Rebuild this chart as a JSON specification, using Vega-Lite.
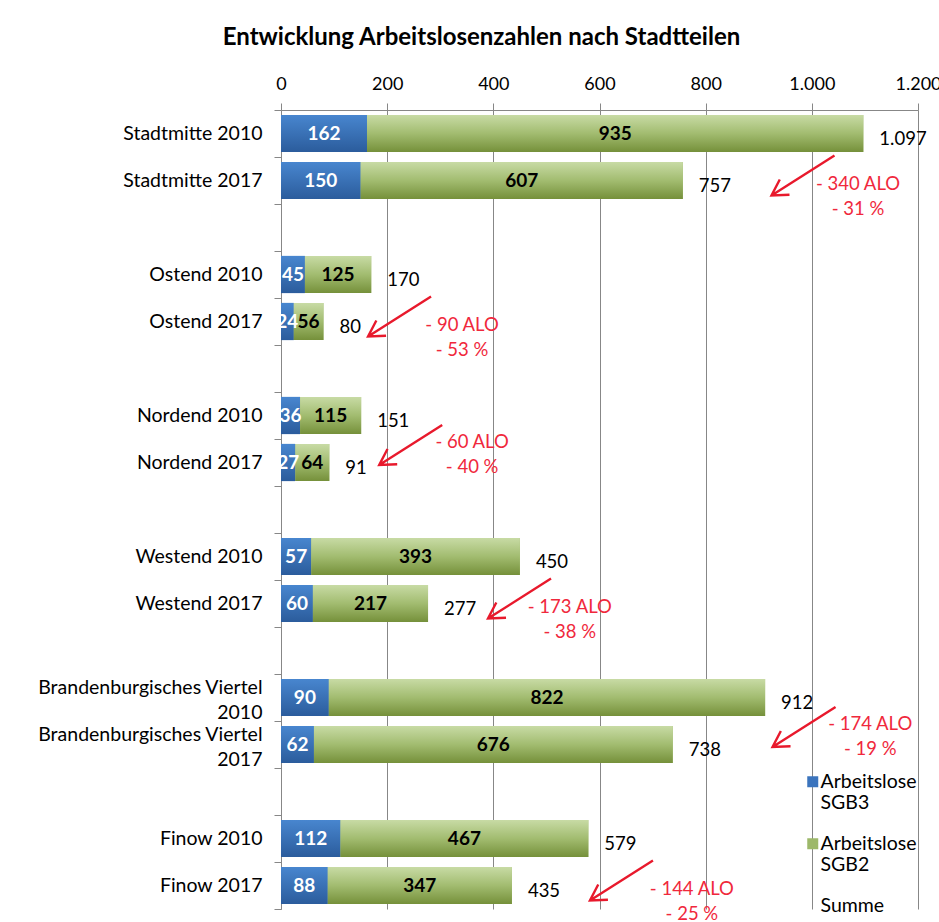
{
  "$schema": "https://vega.github.io/schema/vega-lite/v6.json",
  "width": 637,
  "height": 799,
  "autosize": {"type": "none"},
  "padding": {"left": 281, "top": 110, "right": 21, "bottom": 13},
  "background": "white",
  "config": {
    "view": {"stroke": null},
    "locale": {"number": {"decimal": ",", "thousands": ".", "grouping": [3], "currency": ["", " €"]}}
  },
  "title": {
    "text": "Entwicklung Arbeitslosenzahlen nach Stadtteilen",
    "anchor": "middle",
    "frame": "group",
    "dx": -118,
    "offset": 25,
    "font": "Lato",
    "fontSize": 24,
    "fontWeight": "bold",
    "color": "#000000"
  },
  "datasets": {
    "bars": [
      {"cat": "Stadtmitte 2010", "series": "Arbeitslose SGB3", "n": 162},
      {"cat": "Stadtmitte 2010", "series": "Arbeitslose SGB2", "n": 935},
      {"cat": "Stadtmitte 2017", "series": "Arbeitslose SGB3", "n": 150},
      {"cat": "Stadtmitte 2017", "series": "Arbeitslose SGB2", "n": 607},
      {"cat": "Ostend 2010", "series": "Arbeitslose SGB3", "n": 45},
      {"cat": "Ostend 2010", "series": "Arbeitslose SGB2", "n": 125},
      {"cat": "Ostend 2017", "series": "Arbeitslose SGB3", "n": 24},
      {"cat": "Ostend 2017", "series": "Arbeitslose SGB2", "n": 56},
      {"cat": "Nordend 2010", "series": "Arbeitslose SGB3", "n": 36},
      {"cat": "Nordend 2010", "series": "Arbeitslose SGB2", "n": 115},
      {"cat": "Nordend 2017", "series": "Arbeitslose SGB3", "n": 27},
      {"cat": "Nordend 2017", "series": "Arbeitslose SGB2", "n": 64},
      {"cat": "Westend 2010", "series": "Arbeitslose SGB3", "n": 57},
      {"cat": "Westend 2010", "series": "Arbeitslose SGB2", "n": 393},
      {"cat": "Westend 2017", "series": "Arbeitslose SGB3", "n": 60},
      {"cat": "Westend 2017", "series": "Arbeitslose SGB2", "n": 217},
      {"cat": "Brandenburgisches Viertel 2010", "series": "Arbeitslose SGB3", "n": 90},
      {"cat": "Brandenburgisches Viertel 2010", "series": "Arbeitslose SGB2", "n": 822},
      {"cat": "Brandenburgisches Viertel 2017", "series": "Arbeitslose SGB3", "n": 62},
      {"cat": "Brandenburgisches Viertel 2017", "series": "Arbeitslose SGB2", "n": 676},
      {"cat": "Finow 2010", "series": "Arbeitslose SGB3", "n": 112},
      {"cat": "Finow 2010", "series": "Arbeitslose SGB2", "n": 467},
      {"cat": "Finow 2017", "series": "Arbeitslose SGB3", "n": 88},
      {"cat": "Finow 2017", "series": "Arbeitslose SGB2", "n": 347}
    ],
    "sums": [
      {"cat": "Stadtmitte 2010", "total": 1097},
      {"cat": "Stadtmitte 2017", "total": 757},
      {"cat": "Ostend 2010", "total": 170},
      {"cat": "Ostend 2017", "total": 80},
      {"cat": "Nordend 2010", "total": 151},
      {"cat": "Nordend 2017", "total": 91},
      {"cat": "Westend 2010", "total": 450},
      {"cat": "Westend 2017", "total": 277},
      {"cat": "Brandenburgisches Viertel 2010", "total": 912},
      {"cat": "Brandenburgisches Viertel 2017", "total": 738},
      {"cat": "Finow 2010", "total": 579},
      {"cat": "Finow 2017", "total": 435}
    ],
    "notes": [
      {"cat": "Stadtmitte 2017", "note": "- 340 ALO\n- 31 %", "tip": 924, "at": 1087},
      {"cat": "Ostend 2017", "note": "- 90 ALO\n- 53 %", "tip": 164, "at": 341},
      {"cat": "Nordend 2017", "note": "- 60 ALO\n- 40 %", "tip": 185, "at": 360},
      {"cat": "Westend 2017", "note": "- 173 ALO\n- 38 %", "tip": 390, "at": 544},
      {"cat": "Brandenburgisches Viertel 2017", "note": "- 174 ALO\n- 19 %", "tip": 926, "at": 1110},
      {"cat": "Finow 2017", "note": "- 144 ALO\n- 25 %", "tip": 582, "at": 774}
    ]
  },
  "encoding": {
    "y": {
      "field": "cat",
      "type": "nominal",
      "scale": {
        "domain": ["Stadtmitte 2010", "Stadtmitte 2017", " ", "Ostend 2010", "Ostend 2017", "  ", "Nordend 2010", "Nordend 2017", "   ", "Westend 2010", "Westend 2017", "    ", "Brandenburgisches Viertel 2010", "Brandenburgisches Viertel 2017", "     ", "Finow 2010", "Finow 2017"],
        "paddingInner": 0,
        "paddingOuter": 0
      },
      "axis": {
        "title": null,
        "tickBand": "extent",
        "tickSize": 7,
        "tickColor": "#878787",
        "domainColor": "#878787",
        "labelFont": "Lato",
        "labelFontSize": 19.5,
        "labelColor": "#000000",
        "labelPadding": 12,
        "labelLineHeight": 25,
        "labelLimit": 400,
        "labelOverlap": false,
        "labelBaseline": {"condition": {"test": "length(datum.label) > 20", "value": "bottom"}, "value": "middle"},
        "labelExpr": "length(datum.label) > 20 ? [substring(datum.label, 0, length(datum.label) - 5), substring(datum.label, length(datum.label) - 4)] : datum.label"
      }
    }
  },
  "layer": [
    {
      "data": {"name": "bars"},
      "transform": [
        {"stack": "n", "groupby": ["cat"], "sort": [{"field": "series", "order": "descending"}], "as": ["v0", "v1"]}
      ],
      "mark": {"type": "bar", "height": {"band": 0.79}},
      "encoding": {
        "x": {
          "field": "v0",
          "type": "quantitative",
          "scale": {"domain": [0, 1200], "nice": false},
          "axis": {
            "orient": "top",
            "title": null,
            "values": [0, 200, 400, 600, 800, 1000, 1200],
            "format": ",d",
            "grid": true,
            "gridColor": "#878787",
            "gridWidth": 1,
            "domainColor": "#878787",
            "tickColor": "#878787",
            "tickSize": 7,
            "labelFont": "Lato",
            "labelFontSize": 18,
            "labelColor": "#000000",
            "labelPadding": 10,
            "labelFlush": false,
            "labelOverlap": false
          }
        },
        "x2": {"field": "v1"},
        "color": {
          "field": "series",
          "type": "nominal",
          "scale": {
            "domain": ["Arbeitslose SGB3", "Arbeitslose SGB2", "Summe"],
            "range": ["#3b74bd", "#9db86a", "rgba(0,0,0,0)"]
          },
          "legend": {
            "title": null,
            "orient": "none",
            "legendX": 522,
            "legendY": 662,
            "padding": 0,
            "symbolType": "square",
            "symbolSize": 121,
            "symbolStrokeWidth": 0,
            "symbolOpacity": 1,
            "labelFont": "Lato",
            "labelFontSize": 19.5,
            "labelColor": "#000000",
            "labelBaseline": "middle",
            "labelOffset": -2,
            "rowPadding": 20,
            "labelExpr": "datum.label == 'Summe' ? datum.label : split(datum.label, ' ')"
          }
        }
      }
    },
    {
      "data": {"name": "bars"},
      "transform": [
        {"stack": "n", "groupby": ["cat"], "sort": [{"field": "series", "order": "descending"}], "as": ["v0", "v1"]},
        {"filter": "datum.series == 'Arbeitslose SGB3'"}
      ],
      "mark": {
        "type": "bar",
        "height": {"band": 0.79},
        "color": {"gradient": "linear", "x1": 0, "y1": 0, "x2": 0, "y2": 1, "stops": [{"offset": 0, "color": "#4886cf"}, {"offset": 1, "color": "#2b5c9c"}]}
      },
      "encoding": {
        "x": {"field": "v0", "type": "quantitative"},
        "x2": {"field": "v1"}
      }
    },
    {
      "data": {"name": "bars"},
      "transform": [
        {"stack": "n", "groupby": ["cat"], "sort": [{"field": "series", "order": "descending"}], "as": ["v0", "v1"]},
        {"filter": "datum.series == 'Arbeitslose SGB2'"}
      ],
      "mark": {
        "type": "bar",
        "height": {"band": 0.79},
        "color": {"gradient": "linear", "x1": 0, "y1": 0, "x2": 0, "y2": 1, "stops": [{"offset": 0, "color": "#c8dba5"}, {"offset": 0.5, "color": "#a2bc70"}, {"offset": 1, "color": "#75903a"}]}
      },
      "encoding": {
        "x": {"field": "v0", "type": "quantitative"},
        "x2": {"field": "v1"}
      }
    },
    {
      "data": {"name": "bars"},
      "transform": [
        {"stack": "n", "groupby": ["cat"], "sort": [{"field": "series", "order": "descending"}], "as": ["v0", "v1"]},
        {"filter": "datum.series == 'Arbeitslose SGB3'"},
        {"fold": ["v0", "v1"], "as": ["k", "pos"]}
      ],
      "mark": {"type": "text", "font": "Lato", "fontSize": 19, "fontWeight": "bold", "color": "#ffffff", "align": "center", "baseline": "middle"},
      "encoding": {
        "x": {"field": "pos", "type": "quantitative", "aggregate": "mean"},
        "text": {"field": "n", "type": "quantitative", "format": ",d"}
      }
    },
    {
      "data": {"name": "bars"},
      "transform": [
        {"stack": "n", "groupby": ["cat"], "sort": [{"field": "series", "order": "descending"}], "as": ["v0", "v1"]},
        {"filter": "datum.series == 'Arbeitslose SGB2'"},
        {"fold": ["v0", "v1"], "as": ["k", "pos"]}
      ],
      "mark": {"type": "text", "font": "Lato", "fontSize": 19, "fontWeight": "bold", "color": "#000000", "align": "center", "baseline": "middle"},
      "encoding": {
        "x": {"field": "pos", "type": "quantitative", "aggregate": "mean"},
        "text": {"field": "n", "type": "quantitative", "format": ",d"}
      }
    },
    {
      "data": {"name": "sums"},
      "mark": {"type": "text", "font": "Lato", "fontSize": 18.5, "color": "#000000", "align": "left", "baseline": "middle", "dx": 16, "dy": 5},
      "encoding": {
        "x": {"field": "total", "type": "quantitative"},
        "text": {"field": "total", "type": "quantitative", "format": ",d"}
      }
    },
    {
      "data": {"name": "notes"},
      "transform": [{"filter": "indexof(['Nordend 2017', 'Brandenburgisches Viertel 2017'], datum.cat) < 0"}],
      "mark": {
        "type": "point",
        "shape": "M3.15,-2L0,0M0.415,-0.797L0,0L0.9,-0.0375",
        "size": 1600,
        "filled": false,
        "color": "#e8192c",
        "stroke": "#e8192c",
        "strokeWidth": 2.4,
        "opacity": 1,
        "yOffset": 15
      },
      "encoding": {
        "x": {"field": "tip", "type": "quantitative"}
      }
    },
    {
      "data": {"name": "notes"},
      "transform": [{"filter": "indexof(['Nordend 2017', 'Brandenburgisches Viertel 2017'], datum.cat) >= 0"}],
      "mark": {
        "type": "point",
        "shape": "M3.15,-2L0,0M0.415,-0.797L0,0L0.9,-0.0375",
        "size": 1600,
        "filled": false,
        "color": "#e8192c",
        "stroke": "#e8192c",
        "strokeWidth": 2.4,
        "opacity": 1,
        "yOffset": 2.5
      },
      "encoding": {
        "x": {"field": "tip", "type": "quantitative"}
      }
    },
    {
      "data": {"name": "notes"},
      "transform": [{"filter": "indexof(['Nordend 2017', 'Brandenburgisches Viertel 2017'], datum.cat) < 0"}],
      "mark": {"type": "text", "font": "Lato", "fontSize": 18.5, "color": "#f0283c", "align": "center", "baseline": "middle", "lineBreak": "\n", "lineHeight": 25, "dy": 3},
      "encoding": {
        "x": {"field": "at", "type": "quantitative"},
        "text": {"field": "note", "type": "nominal"}
      }
    },
    {
      "data": {"name": "notes"},
      "transform": [{"filter": "indexof(['Nordend 2017', 'Brandenburgisches Viertel 2017'], datum.cat) >= 0"}],
      "mark": {"type": "text", "font": "Lato", "fontSize": 18.5, "color": "#f0283c", "align": "center", "baseline": "middle", "lineBreak": "\n", "lineHeight": 25, "dy": -21},
      "encoding": {
        "x": {"field": "at", "type": "quantitative"},
        "text": {"field": "note", "type": "nominal"}
      }
    }
  ]
}
